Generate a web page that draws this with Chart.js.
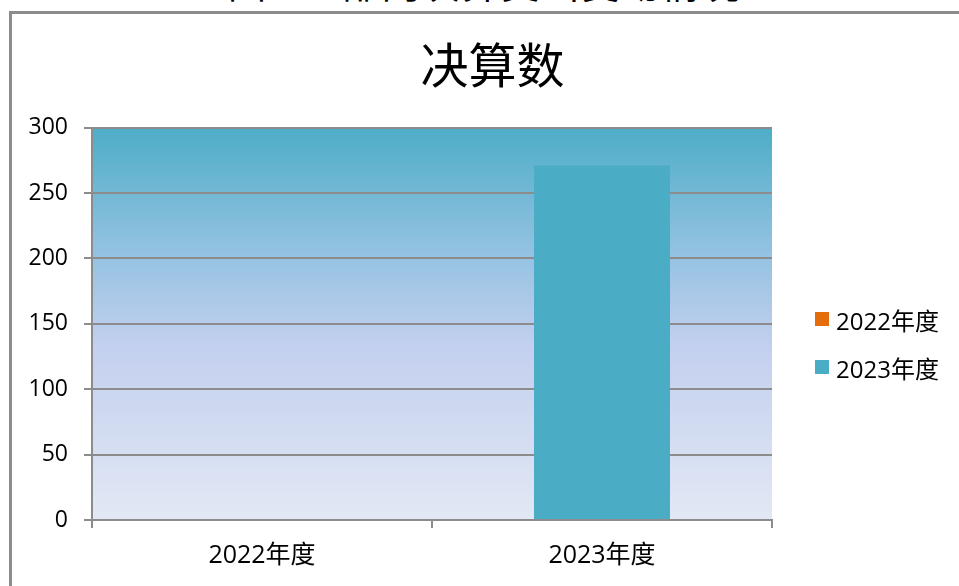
<!DOCTYPE html>
<html>
<head>
<meta charset="utf-8">
<script src="https://cdn.jsdelivr.net/npm/chart.js@4"></script>
<style>
	body { margin: 0; background: #fff; width: 959px; height: 586px; overflow: hidden; position: relative; font-family: 'Open Sans', 'Noto Sans CJK SC', sans-serif; }
	#cap { position: absolute; left: 228px; top: -37px; font-size: 38px; line-height: 38px; white-space: nowrap; color: #000; font-family: 'Noto Sans CJK SC', sans-serif; letter-spacing: 2px; }
	#frame { position: absolute; left: 9px; top: 11px; width: 980px; height: 600px; border-left: 3px solid #8c8c8c; border-top: 3px solid #8c8c8c; background: #fff; }
	#c { position: absolute; left: 0; top: 0; }
	#legend { position: absolute; left: 815px; top: 305px; }
	#legend ul { list-style: none; margin: 0; padding: 0; }
	#legend li { display: flex; align-items: center; height: 28px; margin-bottom: 20px; font-size: 24px; color: #000; }
	#legend li span.box { width: 14px; height: 14px; margin-right: 7px; display: inline-block; }
</style>
</head>
<body>
<div id="cap">图 2：部门决算支出变动情况</div>
<div id="frame"></div>
<canvas id="c" width="959" height="586"></canvas>
<div id="legend"></div>
<script>
	// values
	const categories = ['2022年度', '2023年度'];
	const values = [0, 271];
	const seriesColors = ['#e46c0a', '#4bacc6'];
	const yTicks = [0, 50, 100, 150, 200, 250, 300];

	const gridGrey = '#8c8c8c';

	// one series per year, each only on its own category
	const datasets = categories.map((name, i) => ({
		label: name,
		data: categories.map((c, j) => (j === i ? values[i] : null)),
		backgroundColor: seriesColors[i],
		grouped: false,
		categoryPercentage: 1,
		barPercentage: 0.4,
	}));

	const plotBg = {
		id: 'plotBg',
		beforeDraw(chart) {
			const { ctx, chartArea: a } = chart;
			const g = ctx.createLinearGradient(0, a.top, 0, a.bottom);
			g.addColorStop(0, '#4dadc7');
			g.addColorStop(0.3, '#90c1e0');
			g.addColorStop(0.55, '#c2cfee');
			g.addColorStop(1, '#e2e8f4');
			ctx.save();
			ctx.fillStyle = g;
			ctx.fillRect(a.left, a.top, a.width, a.height);
			ctx.restore();
		},
	};

	const htmlLegend = {
		id: 'htmlLegend',
		afterUpdate(chart) {
			const box = document.getElementById('legend');
			box.innerHTML = '';
			const ul = document.createElement('ul');
			const items = chart.options.plugins.legend.labels.generateLabels(chart);
			items.forEach((item) => {
				const li = document.createElement('li');
				li.innerHTML = `<span class="box" style="background:${item.fillStyle}"></span>${item.text}`;
				ul.appendChild(li);
			});
			box.appendChild(ul);
		},
	};

	new Chart(document.getElementById('c'), {
		type: 'bar',
		data: { labels: categories, datasets: datasets },
		plugins: [plotBg, htmlLegend],
		options: {
			responsive: false,
			animation: false,
			layout: { padding: { left: 26, right: 0, top: 0, bottom: 0 } },
			plugins: {
				legend: { display: false },
				tooltip: { enabled: false },
				title: {
					display: true,
					text: '决算数',
					color: '#000',
					font: { family: "'Noto Sans CJK SC'", size: 48, weight: 'normal', lineHeight: 1.2 },
					padding: { top: 36, bottom: 34 },
				},
			},
			scales: {
				x: {
					grid: { drawOnChartArea: false, drawTicks: true, tickLength: 8, color: gridGrey, lineWidth: 2 },
					border: { display: true, color: gridGrey, width: 2 },
					ticks: { color: '#000', padding: 13, font: { family: "'Open Sans', 'Noto Sans CJK SC'", size: 25 } },
					afterFit: (scale) => { scale.height = 66; },
				},
				y: {
					min: 0,
					max: 300,
					afterBuildTicks: (scale) => { scale.ticks = yTicks.map((v) => ({ value: v })); },
					grid: { color: gridGrey, lineWidth: 2, tickLength: 8 },
					border: { display: true, color: gridGrey, width: 2 },
					ticks: { color: '#000', padding: 16, font: { family: "'Open Sans'", size: 23 } },
					afterFit: (scale) => { scale.width = 66; },
				},
				// empty room on the right where the legend sits
				legendRoom: {
					type: 'linear',
					position: 'right',
					display: true,
					grid: { display: false },
					border: { display: false },
					ticks: { display: false },
					afterFit: (scale) => { scale.width = 187; },
				},
			},
		},
	});
</script>
</body>
</html>
